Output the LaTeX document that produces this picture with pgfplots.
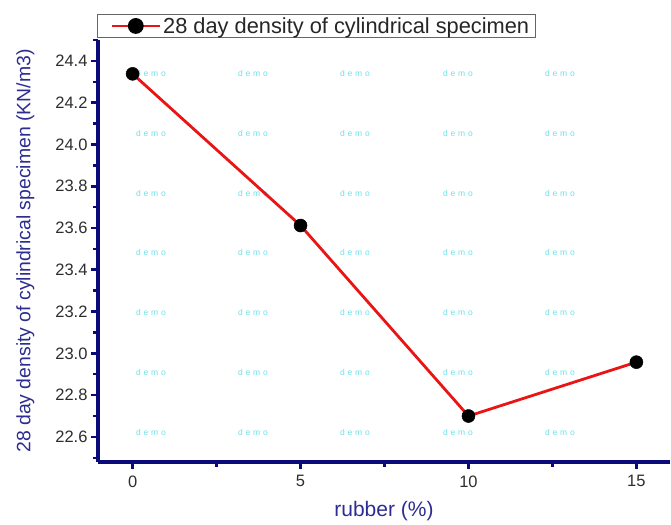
\documentclass[border=0pt]{standalone}
\usepackage{pgfplots}
\pgfplotsset{compat=1.18}
\usepackage{fontspec}
\setmainfont{Liberation Sans}
\definecolor{navy}{RGB}{10,10,120}
\definecolor{axlab}{RGB}{45,45,145}
\definecolor{tickgray}{RGB}{45,45,45}
\definecolor{demo}{RGB}{110,225,232}
\definecolor{lred}{RGB}{235,20,20}
\begin{document}
\begin{tikzpicture}[x=1pt,y=1pt]
\path[use as bounding box] (-98,-62) rectangle (573,462);
\foreach \X in {53,155,257,360,462}{
  \foreach \Y in {389,329,269,210,150,90,30}{
    \node[font=\fontsize{8.5}{9}\selectfont, text=demo, inner sep=0pt] at (\X,\Y) {d\,\,e\,\,m\,\,o};
  }
}
\begin{axis}[
  at={(0,0)}, anchor=south west,
  width=572pt, height=422pt, scale only axis,
  xmin=-1.03, xmax=16, ymin=22.48, ymax=24.5,
  axis x line=bottom, axis y line=left,
  axis line style={draw=navy, line width=3.4pt, -},
  xtick={0,5,10,15}, minor xtick={2.5,7.5,12.5},
  ytick={22.6,22.8,23.0,23.2,23.4,23.6,23.8,24.0,24.2,24.4},
  minor ytick={22.5,22.7,22.9,23.1,23.3,23.5,23.7,23.9,24.1,24.3,24.5},
  major tick style={draw=navy, line width=2.6pt},
  minor tick style={draw=navy, line width=2.4pt},
  major tick length=7pt, minor tick length=4.5pt, tick align=outside,
  ticklabel style={font=\fontsize{16.5}{18}\selectfont, text=tickgray},
  xticklabel style={yshift=-3pt},
  /pgf/number format/assume math mode=true,
  yticklabel style={/pgf/number format/.cd, fixed, fixed zerofill, precision=1},
  xlabel={rubber (\%)},
  ylabel={28 day density of cylindrical specimen (KN/m3)},
  xlabel style={font=\fontsize{21}{23}\selectfont, text=axlab, yshift=-7pt},
  ylabel style={font=\fontsize{19.4}{21}\selectfont, text=axlab, yshift=14pt},
  legend style={at={(axis description cs:0,1)}, anchor=south west, xshift=-1pt, yshift=2pt,
    draw=black!60, line width=0.8pt, font=\fontsize{21.8}{24}\selectfont, text=black!85,
    inner xsep=4pt, inner ysep=1pt},
  legend cell align=left,
  legend image code/.code={
    \path (-9pt,0pt);
    \draw[#1, mark=none] (0pt,0pt) -- (48pt,0pt);
    \fill[black] (24pt,0pt) circle (6.5pt);
  },
]
\addplot[lred, line width=2.8pt, mark=*, mark size=6.5pt, mark options={fill=black, draw=black, line width=0.5pt}]
  coordinates {(0,24.338) (5,23.612) (10,22.70) (15,22.958)};
\addlegendentry{28 day density of cylindrical specimen}
\end{axis}
\end{tikzpicture}
\end{document}
